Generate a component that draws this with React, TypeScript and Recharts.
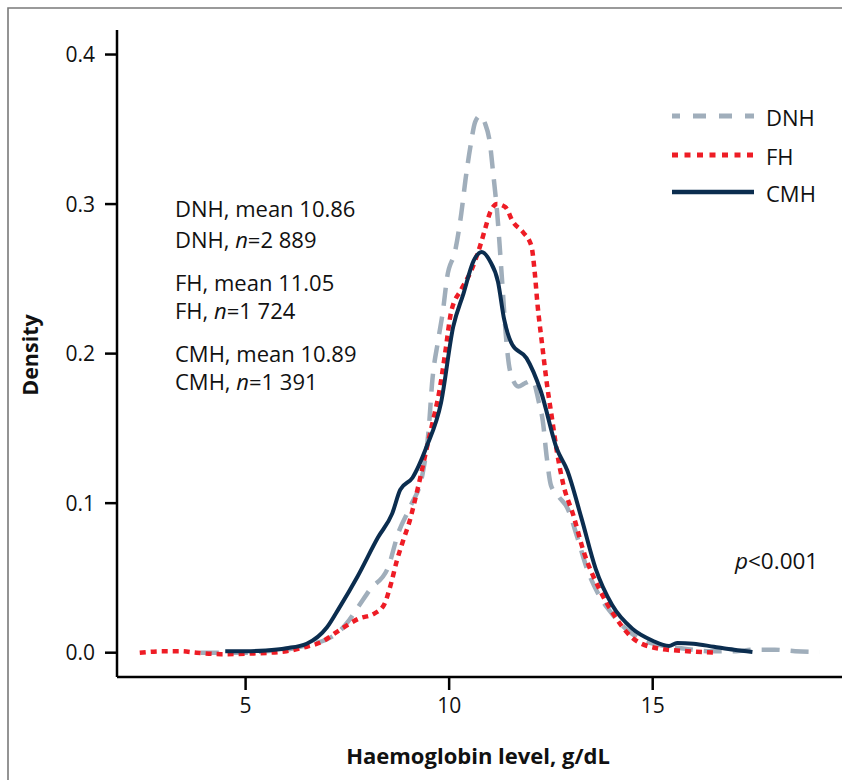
import { LineChart, Line, XAxis, YAxis } from 'recharts'

// density curves: [haemoglobin g/dL, density]
const dnhPoints: [number, number][] = [
  [3.9, 0], [4.5, 0], [5.0, 0], [5.5, 0.001], [6.0, 0.002], [6.5, 0.005],
  [7.0, 0.009], [7.25, 0.013], [7.55, 0.022], [7.8, 0.032], [8.05, 0.042],
  [8.5, 0.057], [8.75, 0.08], [9.05, 0.098], [9.35, 0.12], [9.5, 0.15],
  [9.58, 0.18], [9.73, 0.209], [9.85, 0.229], [9.95, 0.251], [10.15, 0.269],
  [10.3, 0.294], [10.4, 0.316], [10.52, 0.338], [10.64, 0.355], [10.76, 0.359],
  [10.88, 0.354], [11.0, 0.341], [11.08, 0.321], [11.18, 0.294], [11.3, 0.249],
  [11.4, 0.21], [11.5, 0.188], [11.7, 0.178], [11.85, 0.18], [12.05, 0.182],
  [12.2, 0.168], [12.3, 0.155], [12.4, 0.13], [12.5, 0.112], [12.7, 0.104],
  [12.9, 0.097], [13.15, 0.077], [13.4, 0.055], [13.65, 0.04], [14.0, 0.026],
  [14.3, 0.017], [14.7, 0.009], [15.2, 0.005], [15.7, 0.003], [16.4, 0.001],
  [17.0, 0.001], [17.5, 0.002], [18.0, 0.002], [18.5, 0.001], [19.1, 0.0005],
]

const fhPoints: [number, number][] = [
  [2.4, 0], [3.0, 0.001], [3.4, 0.001], [3.8, 0], [4.4, -0.001], [5.2, -0.0005],
  [6.0, 0.001], [6.5, 0.004], [6.85, 0.007], [7.3, 0.015], [7.8, 0.023],
  [8.15, 0.026], [8.4, 0.032], [8.55, 0.044], [8.72, 0.062], [8.87, 0.075],
  [9.04, 0.089], [9.16, 0.102], [9.29, 0.117], [9.46, 0.138], [9.61, 0.156],
  [9.76, 0.175], [9.9, 0.2], [10.05, 0.228], [10.3, 0.243], [10.55, 0.256],
  [10.76, 0.272], [10.9, 0.285], [11.0, 0.294], [11.18, 0.3], [11.38, 0.298],
  [11.57, 0.288], [11.82, 0.281], [12.02, 0.272], [12.1, 0.255], [12.17, 0.233],
  [12.28, 0.207], [12.4, 0.18], [12.53, 0.156], [12.65, 0.134], [12.8, 0.113],
  [13.05, 0.092], [13.3, 0.068], [13.7, 0.042], [14.03, 0.026], [14.5, 0.01],
  [15.1, 0.003], [15.85, 0.001], [16.55, 0],
]

const cmhPoints: [number, number][] = [
  [4.5, 0.001], [5.0, 0.001], [5.5, 0.0015], [6.0, 0.003], [6.5, 0.006],
  [7.0, 0.017], [7.3, 0.03], [7.75, 0.051], [8.25, 0.077], [8.6, 0.093],
  [8.8, 0.109], [9.1, 0.117], [9.45, 0.138], [9.8, 0.167], [10.1, 0.218],
  [10.35, 0.24], [10.6, 0.262], [10.8, 0.268], [11.0, 0.262], [11.2, 0.248],
  [11.35, 0.223], [11.55, 0.206], [11.9, 0.197], [12.25, 0.175], [12.65, 0.136],
  [12.9, 0.122], [13.25, 0.09], [13.6, 0.056], [14.0, 0.032], [14.5, 0.016],
  [15.0, 0.008], [15.4, 0.0045], [15.6, 0.0065], [16.0, 0.006], [16.5, 0.004],
  [17.0, 0.002], [17.45, 0.0005],
]

const xTicks = [5, 10, 15]
const yTicks = [0, 0.1, 0.2, 0.3, 0.4]

const statLines = [
  ['DNH, mean 10.86', 'DNH, ', '2 889'],
  ['FH, mean 11.05', 'FH, ', '1 724'],
  ['CMH, mean 10.89', 'CMH, ', '1 391'],
]

const series = [
  { name: 'DNH', pts: dnhPoints, color: '#a0aebb', width: 4.5, dash: '18 11', legendDash: '13 13' },
  { name: 'FH', pts: fhPoints, color: '#ee1c25', width: 4.5, dash: '6 5', legendDash: '6 6.5' },
  { name: 'CMH', pts: cmhPoints, color: '#0b2d4f', width: 4, dash: undefined, legendDash: undefined },
]

const toRows = (pts: [number, number][]) => pts.map(([x, y]) => ({ x, y }))

const font = '"Open Sans", sans-serif'
const tickStyle = { fill: '#111', fontSize: 21, fontFamily: font }

export default function App() {
  return (
    <div style={{ position: 'absolute', left: 0, top: 0, width: 842, height: 780, background: '#fff', fontFamily: font }}>
      <LineChart width={842} height={780} margin={{ top: 30, right: 0, bottom: 63, left: 57 }}>
        <XAxis
          type="number"
          dataKey="x"
          domain={[1.841, 19.65]}
          ticks={xTicks}
          allowDataOverflow
          height={40}
          tick={tickStyle}
          tickSize={13}
          tickMargin={8}
          axisLine={{ stroke: '#000', strokeWidth: 2.5 }}
          tickLine={{ stroke: '#000', strokeWidth: 2.5 }}
        />
        <YAxis
          type="number"
          dataKey="y"
          domain={[-0.01625, 0.4164]}
          ticks={yTicks}
          allowDataOverflow
          width={60}
          tick={tickStyle}
          tickSize={12}
          tickMargin={10}
          tickFormatter={(v: number) => v.toFixed(1)}
          axisLine={{ stroke: '#000', strokeWidth: 2.5 }}
          tickLine={{ stroke: '#000', strokeWidth: 2.5 }}
        />
        {series.map((s) => (
          <Line
            key={s.name}
            data={toRows(s.pts)}
            dataKey="y"
            type="monotoneX"
            stroke={s.color}
            strokeWidth={s.width}
            strokeDasharray={s.dash}
            dot={false}
            activeDot={false}
            isAnimationActive={false}
          />
        ))}
      </LineChart>

      <svg width={842} height={780} style={{ position: 'absolute', left: 0, top: 0, pointerEvents: 'none' }}>
        <path d="M8 780 V8 H842" fill="none" stroke="#7a7a7a" strokeWidth={1.6} />

        {statLines.map(([mean, lab, n], i) => {
          const base = [217, 291, 362][i]
          const gap = i === 0 ? 31 : 28
          return (
            <g key={i} fontSize={22} fill="#111" fontFamily={font}>
              <text x={175} y={base}>{mean}</text>
              <text x={175} y={base + gap}>
                {lab}<tspan fontStyle="italic">n</tspan>={n}
              </text>
            </g>
          )
        })}

        {series.map((s, i) => {
          const y = [116, 155, 192][i]
          return (
            <g key={s.name}>
              <line x1={672} x2={754} y1={y} y2={y} stroke={s.color} strokeWidth={s.width + 0.5}
                strokeDasharray={s.legendDash} strokeDashoffset={s.name === 'DNH' ? 5 : 0} />
              <text x={766} y={y + 10} fontSize={22} fill="#111" fontFamily={font}>{s.name}</text>
            </g>
          )
        })}

        <text x={735} y={569} fontSize={22.5} fill="#111" fontFamily={font}>
          <tspan fontStyle="italic">p</tspan>&lt;0.001
        </text>

        <text transform="translate(38,355) rotate(-90)" textAnchor="middle" fontSize={21.5}
          fontWeight="bold" fill="#111" fontFamily={font}>Density</text>
        <text x={478} y={764} textAnchor="middle" fontSize={22} fontWeight="bold" fill="#111"
          fontFamily={font}>Haemoglobin level, g/dL</text>
      </svg>
    </div>
  )
}
